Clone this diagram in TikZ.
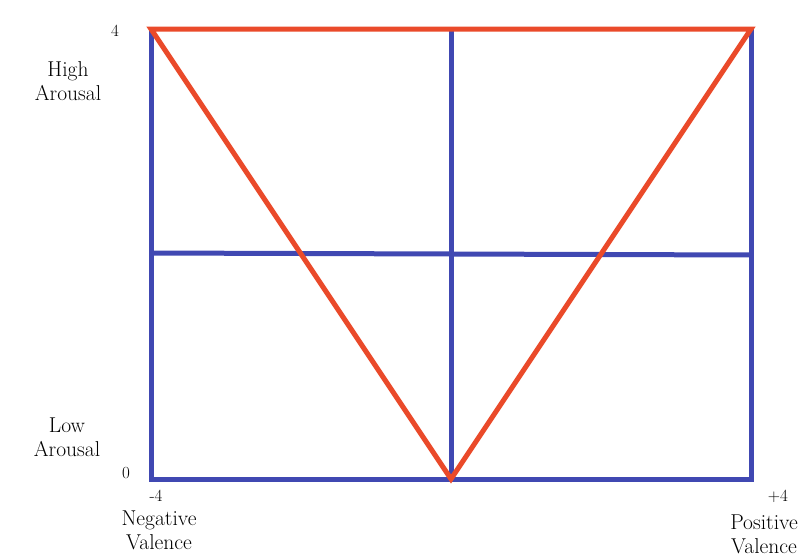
\documentclass[tikz,border=0pt]{standalone}
\usepackage{fontspec}
\usepackage{tikz}
\usetikzlibrary{positioning,calc}
\definecolor{gridblue}{RGB}{64,72,178}
\definecolor{vred}{RGB}{234,74,42}

\begin{document}
\begin{tikzpicture}[x=1pt,y=-1pt,
  gridline/.style={gridblue, line width=5pt},
  vline/.style={vred, line width=5pt, line join=miter},
  axlabel/.style={font=\fontsize{21.5}{24}\selectfont, align=center, inner sep=0pt},
  ticklabel/.style={font=\fontsize{17}{19}\selectfont, inner sep=0pt}]
\useasboundingbox (0,0) rectangle (803,555);
% frame corners
\coordinate (tl) at (151,29);
\coordinate (tr) at (751,29);
\coordinate (bl) at (151,479);
\coordinate (br) at (751,479);
\coordinate (tm) at (451,29);
\coordinate (bm) at (451,479);
\coordinate (ml) at (151,253);
\coordinate (mr) at (751,255);
% blue grid
\draw[gridline, line cap=rect] (tl) -- (bl) -- (br) -- (tr);
\draw[gridline] (tm) -- (bm);
\draw[gridline] (ml) -- (mr);
% red V
\draw[vline] (tl) -- (bm) -- (tr) -- cycle;
% labels
\node[ticklabel] (ytop) at (115,31) {4};
\node[ticklabel] (ybot) at (126,473) {0};
\node[ticklabel] (xleft) at (156,496) {-4};
\node[ticklabel] (xright) at (778,496) {+4};
\node[axlabel] (high) at (68,81) {High\\Arousal};
\node[axlabel] (low) at (67,437) {Low\\Arousal};
\node[axlabel] (neg) at (159,530) {Negative\\Valence};
\node[axlabel] (pos) at (764,534) {Positive\\Valence};
\end{tikzpicture}
\end{document}
